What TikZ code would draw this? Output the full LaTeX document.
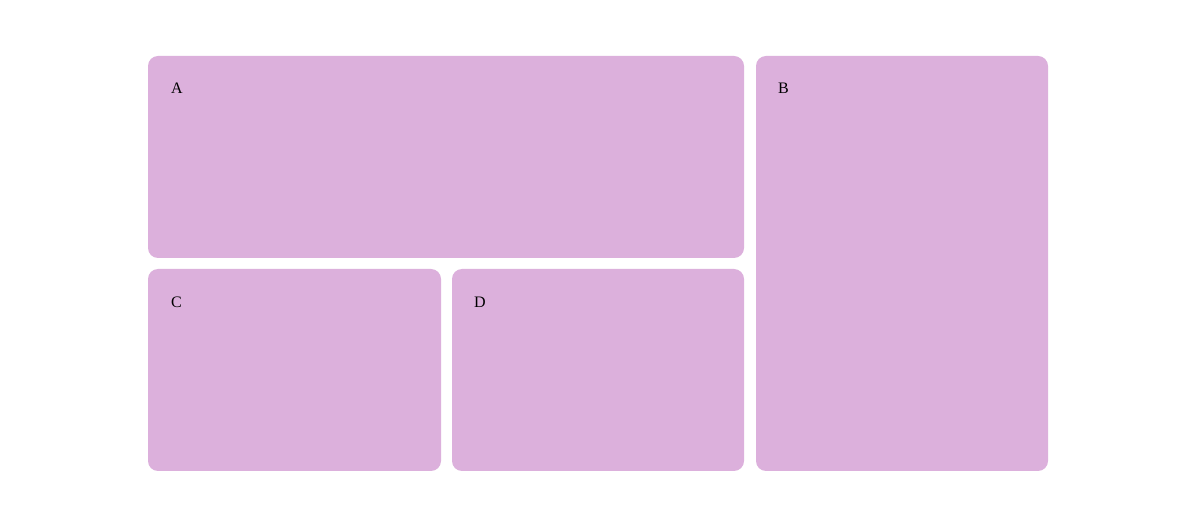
\documentclass[tikz,border=0pt]{standalone}
\usepackage{fontspec}
\setmainfont{Liberation Serif}
\definecolor{boxfill}{RGB}{220,176,220}
\begin{document}
\begin{tikzpicture}[x=1pt,y=-1pt,
  panel/.style={fill=boxfill,draw=none,rounded corners=10pt},
  lbl/.style={anchor=base west,inner sep=0pt,font=\fontsize{16}{19}\selectfont}]
\useasboundingbox[fill=white] (0,0) rectangle (1192,526);
\fill[panel] (148,56) rectangle (744,258);
\fill[panel] (756,56) rectangle (1048,471);
\fill[panel] (148,269) rectangle (441,471);
\fill[panel] (452,269) rectangle (744,471);
\node[lbl] (a) at (171,94) {A};
\node[lbl] (b) at (778,94) {B};
\node[lbl] (c) at (171,308) {C};
\node[lbl] (d) at (474,308) {D};
\end{tikzpicture}
\end{document}
